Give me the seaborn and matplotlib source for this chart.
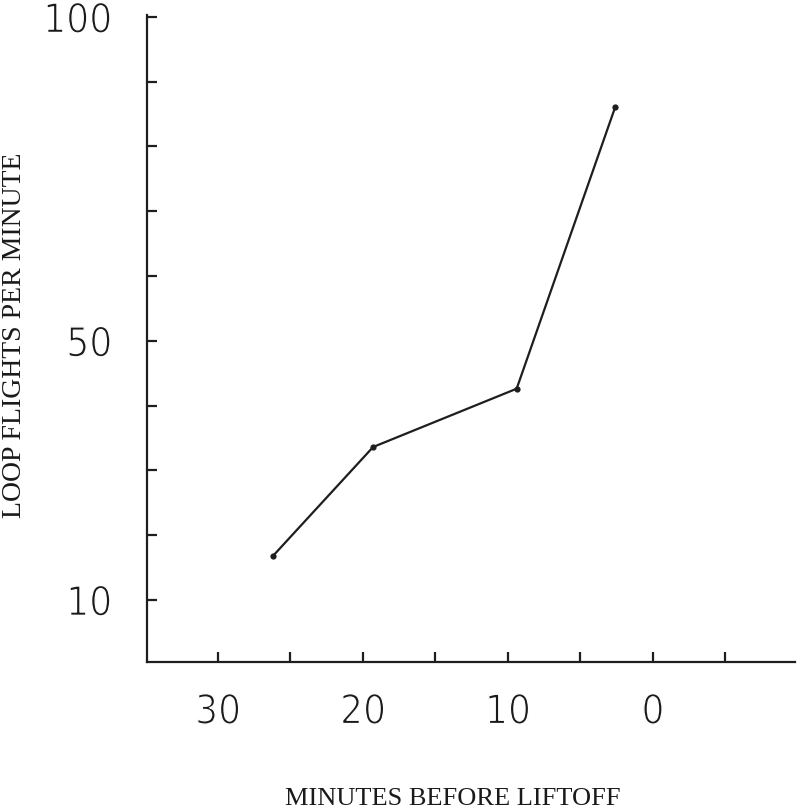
import matplotlib
matplotlib.use("Agg")
import matplotlib.pyplot as plt
import matplotlib.patheffects as pe
import seaborn as sns
import pandas as pd

# values
minutes_before = [26.2, 19.3, 9.4, 2.6]
loop_flights = [16.8, 33.6, 42.6, 86.1]

x_ticks = [30, 25, 20, 15, 10, 5, 0, -5]
x_tick_labels = ["30", "", "20", "", "10", "", "0", ""]
y_ticks = [10, 20, 30, 40, 50, 60, 70, 80, 90, 100]
y_tick_labels = ["10", "", "", "", "50", "", "", "", "", "100"]

df = pd.DataFrame({"minutes": minutes_before, "flights": loop_flights})

sns.set_style("ticks")
plt.rcParams["font.family"] = ["DejaVu Sans"]

fig = plt.figure(figsize=(7.97, 8.11), dpi=100)
ax = fig.add_axes([0.1844, 0.1837, 0.8131, 0.7978])

sns.lineplot(data=df, x="minutes", y="flights", ax=ax, color="#1e1e1e",
             linewidth=1.6, marker="o", markersize=4.5, markeredgewidth=0)

ax.set_xlim(34.9, -9.8)
ax.set_ylim(0.4, 100.3)

ax.set_xticks(x_ticks)
ax.set_xticklabels(x_tick_labels)
ax.set_yticks(y_ticks)
ax.set_yticklabels(y_tick_labels)

ax.tick_params(axis="both", direction="in", length=7, width=1.6, color="#1e1e1e",
               labelsize=29, labelcolor="#1a1a1a")
ax.tick_params(axis="x", pad=22)
ax.tick_params(axis="y", pad=25)
# thin the typewriter-like digits
thin = [pe.Normal(), pe.Stroke(linewidth=1.0, foreground="white")]
for lab in ax.get_xticklabels() + ax.get_yticklabels():
    lab.set_fontstretch("condensed")
    lab.set_path_effects(thin)

for side in ["top", "right"]:
    ax.spines[side].set_visible(False)
for side in ["left", "bottom"]:
    ax.spines[side].set_linewidth(1.6)
    ax.spines[side].set_color("#1e1e1e")

ax.set_xlabel("MINUTES BEFORE LIFTOFF", family="Liberation Serif", fontsize=19,
              color="#1a1a1a", va="center")
ax.set_ylabel("LOOP FLIGHTS PER MINUTE", family="Liberation Serif", fontsize=20,
              color="#1a1a1a", va="center")
ax.yaxis.set_label_coords(-0.204, 0.505)
ax.xaxis.set_label_coords(0.472, -0.212)

fig.savefig("out.png", dpi=100)
